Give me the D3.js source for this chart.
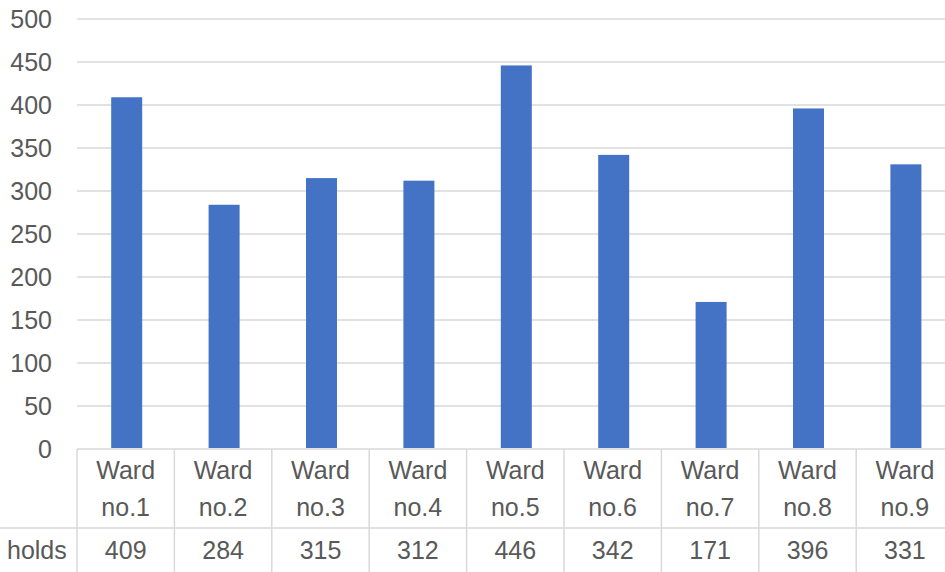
<!DOCTYPE html>
<html>
<head>
<meta charset="utf-8">
<script src="https://cdn.jsdelivr.net/npm/d3@7/dist/d3.min.js"></script>
<style>
  body { margin: 0; background: #fff; }
  svg text { font-family: "Liberation Sans", Arial, sans-serif; fill: #595959; }
</style>
</head>
<body>
<svg id="chart" width="945" height="572"></svg>
<script>
const wardNames = ['Ward no.1', 'Ward no.2', 'Ward no.3', 'Ward no.4', 'Ward no.5',
  'Ward no.6', 'Ward no.7', 'Ward no.8', 'Ward no.9'];
const holds = [409, 284, 315, 312, 446, 342, 171, 396, 331];
const yTicks = [0, 50, 100, 150, 200, 250, 300, 350, 400, 450, 500];
const seriesName = 'holds';

const svg = d3.select('#chart');
const plotLeft = 77;
const step = 97.4;
const plotTop = 19;
const zeroY = 449;
const rowMid = 528;

const x = d3.scaleBand()
  .domain(wardNames)
  .range([plotLeft, plotLeft + step * wardNames.length])
  .padding(0);

const y = d3.scaleLinear()
  .domain([0, 500])
  .range([zeroY, plotTop]);

// Gridlines
svg.append('g')
  .selectAll('line')
  .data(yTicks.filter((t) => t > 0))
  .enter()
  .append('line')
  .attr('x1', plotLeft)
  .attr('x2', 945)
  .attr('y1', (d) => y(d))
  .attr('y2', (d) => y(d))
  .attr('stroke', '#d9d9d9')
  .attr('stroke-width', 1.5);

// Y axis labels
svg.append('g')
  .selectAll('text')
  .data(yTicks)
  .enter()
  .append('text')
  .attr('x', 52)
  .attr('y', (d) => y(d) + 9)
  .attr('text-anchor', 'end')
  .attr('font-size', 25)
  .text((d) => d);

// Bars
const barW = 31;
svg.append('g')
  .selectAll('rect')
  .data(holds)
  .enter()
  .append('rect')
  .attr('x', (d, i) => x(wardNames[i]) + x.bandwidth() / 2 - barW / 2 + 1)
  .attr('y', (d) => y(d))
  .attr('width', barW)
  .attr('height', (d) => zeroY - 1 - y(d))
  .attr('fill', '#4472c4');

// Data table lines
const grid = svg.append('g')
  .attr('stroke', '#d9d9d9')
  .attr('stroke-width', 1.5);
grid.append('line')
  .attr('x1', plotLeft).attr('x2', 945)
  .attr('y1', zeroY).attr('y2', zeroY);
grid.append('line')
  .attr('x1', 0).attr('x2', 945)
  .attr('y1', rowMid).attr('y2', rowMid);
grid.selectAll('line.v')
  .data(wardNames)
  .enter()
  .append('line')
  .attr('class', 'v')
  .attr('x1', (d) => x(d))
  .attr('x2', (d) => x(d))
  .attr('y1', zeroY)
  .attr('y2', 572);

// Category labels (two lines)
const cats = svg.append('g')
  .selectAll('text')
  .data(wardNames)
  .enter()
  .append('text')
  .attr('text-anchor', 'middle')
  .attr('font-size', 25);
cats.append('tspan')
  .attr('x', (d) => x(d) + x.bandwidth() / 2)
  .attr('y', 479)
  .text((d) => d.split(' ')[0]);
cats.append('tspan')
  .attr('x', (d) => x(d) + x.bandwidth() / 2)
  .attr('y', 516)
  .text((d) => d.split(' ')[1]);

// Values row
svg.append('g')
  .selectAll('text')
  .data(holds)
  .enter()
  .append('text')
  .attr('x', (d, i) => x(wardNames[i]) + x.bandwidth() / 2)
  .attr('y', 559)
  .attr('text-anchor', 'middle')
  .attr('font-size', 25)
  .text((d) => d);

svg.append('text')
  .attr('x', 7)
  .attr('y', 559)
  .attr('font-size', 25)
  .text(seriesName);
</script>
</body>
</html>
